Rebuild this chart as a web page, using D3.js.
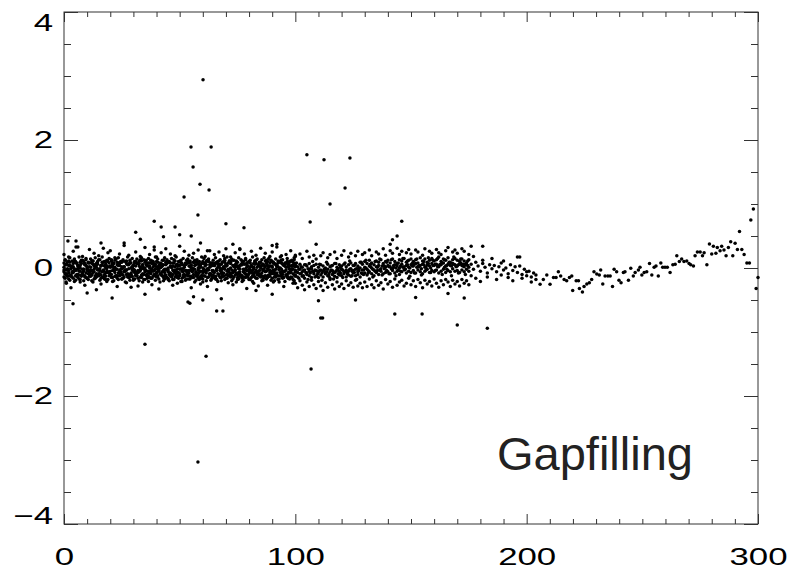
<!DOCTYPE html>
<html>
<head>
<meta charset="utf-8">
<script src="https://cdn.jsdelivr.net/npm/d3@7"></script>
<style>
  body { margin: 0; background: #fff; }
  svg { display: block; font-family: "Liberation Sans", Arial, Helvetica, sans-serif; }
</style>
</head>
<body>
<svg id="chart" width="791" height="572"></svg>
<script>
var xTicks = [0, 100, 200, 300];
var yTicks = [-4, -2, 0, 2, 4];
var yLabels = ["\u22124", "\u22122", "0", "2", "4"];
var title = "Gapfilling";

// days 0-100, dense band
var daysA = [0,1,2,3,4,5,6,7,8,9,10,11,12,13,14,15,16,17,18,19,20,21,22,23,24,25,26,27,28,29,
  30,31,32,33,34,35,36,37,38,39,40,41,42,43,44,45,46,47,48,49,50,51,52,53,54,55,56,57,58,59,
  60,61,62,63,64,65,66,67,68,69,70,71,72,73,74,75,76,77,78,79,80,81,82,83,84,85,86,87,88,89,
  90,91,92,93,94,95,96,97,98,99,100];
var a1 = [.08,.05,.11,.03,.07,.10,.04,.09,.12,.06,
  .02,.08,.11,.05,.07,.13,.04,.09,.06,.10,
  .03,.08,.12,.05,.07,.09,.02,.11,.06,.08,
  .04,.10,.07,.13,.05,.09,.03,.08,.11,.06,
  .10,.04,.07,.12,.05,.09,.08,.03,.11,.06,
  .10,.07,.04,.12,.08,.05,.09,.11,.06,.03,
  .10,.07,.12,.05,.08,.04,.09,.11,.06,.10,
  .03,.08,.07,.12,.05,.09,.04,.11,.06,.08,
  .10,.03,.07,.12,.05,.09,.06,.11,.04,.08,
  .10,.07,.03,.09,.12,.05,.08,.06,.11,.04,.07];
var a2 = [.01,-.03,.04,-.01,.02,-.04,.03,.00,-.02,.05,
  -.01,.02,-.04,.03,.01,-.02,.04,-.03,.00,.02,
  -.05,.03,.01,-.02,.04,-.01,.02,-.03,.05,.00,
  -.02,.03,-.04,.01,.02,-.03,.04,.00,-.01,.03,
  .02,-.04,.01,.05,-.02,.00,.03,-.03,.02,-.01,
  .04,-.02,.01,-.04,.03,.00,-.01,.05,-.03,.02,
  .00,.03,-.02,.01,-.04,.04,-.01,.02,-.03,.01,
  .03,-.02,.00,.04,-.03,.02,-.01,.05,-.04,.01,
  -.02,.03,.01,-.03,.04,.00,-.02,.02,-.01,.03,
  .01,-.04,.02,.00,-.02,.04,-.03,.01,.03,-.01,.02];
var a3 = [-.06,-.09,-.04,-.11,-.07,-.03,-.10,-.05,-.08,-.12,
  -.04,-.07,-.10,-.06,-.09,-.03,-.11,-.05,-.08,-.06,
  -.10,-.04,-.07,-.12,-.05,-.09,-.06,-.03,-.10,-.08,
  -.05,-.11,-.07,-.04,-.09,-.06,-.12,-.08,-.03,-.10,
  -.07,-.05,-.09,-.04,-.11,-.06,-.08,-.10,-.03,-.07,
  -.09,-.05,-.12,-.06,-.08,-.04,-.10,-.07,-.11,-.05,
  -.08,-.06,-.03,-.09,-.12,-.07,-.04,-.10,-.06,-.08,
  -.11,-.05,-.09,-.07,-.03,-.10,-.06,-.12,-.08,-.04,
  -.09,-.07,-.11,-.05,-.08,-.10,-.04,-.06,-.12,-.07,
  -.05,-.09,-.08,-.03,-.10,-.06,-.11,-.07,-.04,-.09,-.06];
var a4 = [-.14,-.11,-.17,-.13,-.16,-.12,-.15,-.18,-.10,-.14,
  -.16,-.13,-.11,-.17,-.14,-.12,-.16,-.15,-.13,-.18,
  -.11,-.15,-.13,-.16,-.12,-.17,-.14,-.10,-.15,-.13,
  -.17,-.12,-.16,-.14,-.11,-.18,-.13,-.15,-.16,-.12,
  -.14,-.17,-.11,-.15,-.13,-.16,-.12,-.18,-.14,-.15,
  -.12,-.16,-.14,-.11,-.17,-.13,-.15,-.12,-.16,-.14,
  -.17,-.13,-.15,-.11,-.16,-.14,-.18,-.12,-.15,-.13,
  -.16,-.12,-.14,-.17,-.11,-.15,-.13,-.16,-.14,-.12,
  -.18,-.15,-.13,-.16,-.11,-.14,-.17,-.12,-.15,-.13,
  -.16,-.14,-.12,-.17,-.13,-.15,-.11,-.16,-.14,-.18,-.13];
var a5 = [-.03,.06,-.08,.02,-.05,.09,-.01,.04,-.10,.07,
  .00,-.06,.08,-.02,.05,-.09,.03,-.04,.10,-.07,
  .01,.06,-.03,.09,-.08,.02,-.05,.07,-.01,-.10,
  .04,-.06,.08,-.02,.05,.00,-.09,.03,.07,-.04,
  -.08,.01,.06,-.05,.09,-.03,.02,.08,-.07,.04,
  -.02,.05,-.10,.07,-.04,.03,.09,-.06,.00,.06,
  -.05,.08,-.01,-.09,.04,.07,-.03,.05,-.08,.02,
  .06,-.04,.09,-.07,.01,.03,-.10,.08,-.02,.05,
  -.06,.04,-.01,.07,-.09,.02,.06,-.05,.10,-.03,
  .03,-.08,.05,-.02,.08,-.06,.01,.04,-.07,.09,-.04];
var a6 = [.21,-.24,.17,-.31,.26,-.19,.33,-.22,.18,-.27,
  -.16,.29,-.20,.23,-.34,.19,-.25,.31,-.18,.24,
  .27,-.21,.16,-.29,.22,-.17,.35,-.23,.20,-.30,
  -.19,.25,-.28,.18,-.22,.32,-.16,.21,-.26,.28,
  .17,-.33,.24,-.20,.30,-.18,.22,-.27,.19,-.24,
  .34,-.21,.26,-.17,.20,-.31,.23,-.19,.28,-.25,
  -.22,.18,-.29,.27,-.16,.21,-.34,.25,-.20,.19,
  .30,-.23,.17,-.26,.24,-.18,.29,-.21,.22,-.32,
  -.17,.26,-.24,.20,-.28,.31,-.19,.23,-.27,.18,
  .25,-.20,.33,-.22,.19,-.29,.21,-.16,.27,-.24,.20];

// half-day samples 0.5-99.5
var daysA2 = [0.5,1.5,2.5,3.5,4.5,5.5,6.5,7.5,8.5,9.5,10.5,11.5,12.5,13.5,14.5,15.5,16.5,17.5,18.5,19.5,
  20.5,21.5,22.5,23.5,24.5,25.5,26.5,27.5,28.5,29.5,30.5,31.5,32.5,33.5,34.5,35.5,36.5,37.5,38.5,39.5,
  40.5,41.5,42.5,43.5,44.5,45.5,46.5,47.5,48.5,49.5,50.5,51.5,52.5,53.5,54.5,55.5,56.5,57.5,58.5,59.5,
  60.5,61.5,62.5,63.5,64.5,65.5,66.5,67.5,68.5,69.5,70.5,71.5,72.5,73.5,74.5,75.5,76.5,77.5,78.5,79.5,
  80.5,81.5,82.5,83.5,84.5,85.5,86.5,87.5,88.5,89.5,90.5,91.5,92.5,93.5,94.5,95.5,96.5,97.5,98.5,99.5];
var a7 = [.05,-.01,.09,.02,-.04,.07,.00,.11,-.02,.04,
  .08,-.03,.06,.01,.10,-.01,.05,.03,-.05,.08,
  .02,.07,-.02,.04,.10,.00,-.04,.06,.09,.01,
  -.03,.07,.03,.11,-.01,.05,.08,-.04,.02,.06,
  .09,.00,.04,-.02,.07,.10,.01,-.05,.05,.03,
  .08,-.01,.06,.11,.02,-.03,.04,.09,.00,.07,
  -.02,.05,.10,.03,-.04,.08,.01,.06,-.01,.09,
  .04,.11,-.03,.02,.07,.00,.05,.10,-.02,.03,
  .08,-.04,.06,.01,.09,.04,-.01,.07,.02,.11,
  -.03,.05,.08,.00,.06,.03,.10,-.02,.04,.07];
var a8 = [-.09,-.03,-.12,-.06,-.01,-.10,-.05,-.13,-.02,-.08,
  -.04,-.11,-.07,-.14,-.03,-.09,-.06,-.12,-.01,-.07,
  -.10,-.04,-.13,-.08,-.02,-.11,-.05,-.09,-.14,-.03,
  -.07,-.12,-.06,-.01,-.10,-.04,-.13,-.08,-.05,-.11,
  -.02,-.09,-.06,-.12,-.03,-.08,-.14,-.05,-.10,-.07,
  -.01,-.11,-.04,-.09,-.13,-.06,-.02,-.10,-.07,-.12,
  -.05,-.08,-.03,-.11,-.06,-.14,-.09,-.04,-.12,-.02,
  -.10,-.07,-.13,-.05,-.08,-.01,-.11,-.06,-.09,-.14,
  -.03,-.12,-.07,-.10,-.04,-.08,-.13,-.05,-.11,-.06,
  -.09,-.02,-.12,-.07,-.10,-.05,-.14,-.08,-.03,-.11];
var a9 = [.12,-.13,.04,-.08,.10,-.02,-.11,.07,-.05,.13,
  -.09,.01,.11,-.12,.06,-.04,.09,-.10,.03,-.07,
  .13,-.01,-.12,.08,-.06,.11,-.03,.05,-.13,.02,
  .10,-.08,.07,-.11,.00,.12,-.05,-.09,.09,-.02,
  -.12,.06,.03,-.07,.13,-.10,.01,.08,-.04,-.13,
  .11,-.06,.05,-.11,.09,-.01,.12,-.08,.02,-.12,
  .07,-.04,.10,-.09,.04,-.13,.06,.00,-.10,.12,
  -.05,.09,-.12,.03,.11,-.07,.05,-.02,.13,-.11,
  .01,-.08,.10,-.06,.07,-.13,.04,.12,-.03,-.09,
  .08,-.12,.02,.11,-.05,.06,-.10,.09,-.01,.13];
var a10 = [-.16,-.12,-.19,-.14,-.21,-.13,-.17,-.11,-.20,-.15,
  -.18,-.13,-.22,-.16,-.12,-.19,-.14,-.17,-.21,-.12,
  -.15,-.20,-.13,-.18,-.11,-.16,-.22,-.14,-.19,-.13,
  -.17,-.12,-.20,-.15,-.18,-.11,-.21,-.16,-.13,-.19,
  -.14,-.22,-.12,-.17,-.15,-.20,-.13,-.18,-.11,-.16,
  -.21,-.14,-.19,-.12,-.17,-.15,-.22,-.13,-.18,-.16,
  -.12,-.20,-.14,-.19,-.11,-.17,-.21,-.15,-.13,-.18,
  -.16,-.12,-.20,-.14,-.22,-.17,-.13,-.19,-.15,-.11,
  -.18,-.21,-.14,-.16,-.12,-.20,-.15,-.17,-.13,-.19,
  -.22,-.14,-.18,-.12,-.16,-.21,-.13,-.17,-.15,-.20];
var a11 = [.13,.09,.16,.11,.14,.08,.17,.12,.10,.15,
  .09,.14,.11,.16,.08,.13,.17,.10,.12,.15,
  .11,.08,.14,.16,.09,.13,.10,.17,.12,.15,
  .08,.14,.11,.16,.13,.09,.15,.12,.10,.17,
  .14,.08,.12,.16,.11,.09,.15,.13,.17,.10,
  .12,.15,.08,.14,.11,.16,.09,.13,.10,.17,
  .15,.11,.14,.08,.12,.16,.10,.13,.09,.15,
  .17,.11,.14,.12,.08,.16,.13,.10,.15,.09,
  .12,.17,.11,.14,.08,.13,.16,.10,.15,.12,
  .09,.14,.11,.17,.13,.08,.15,.10,.12,.16];

// days 100-175, looser band
var daysB = [100,101,102,103,104,105,106,107,108,109,110,111,112,113,114,115,116,117,118,119,
  120,121,122,123,124,125,126,127,128,129,130,131,132,133,134,135,136,137,138,139,
  140,141,142,143,144,145,146,147,148,149,150,151,152,153,154,155,156,157,158,159,
  160,161,162,163,164,165,166,167,168,169,170,171,172,173,174,175];
var b1 = [.04,.02,.06,.01,.05,.03,.07,.02,.04,.06,
  .01,.05,.03,.00,.06,.02,.04,.07,.01,.05,
  .03,.06,.02,.05,.08,.04,.07,.03,.09,.06,
  .10,.07,.12,.08,.05,.11,.09,.13,.07,.10,
  .12,.08,.14,.10,.07,.13,.11,.15,.09,.12,
  .14,.10,.13,.08,.16,.11,.14,.09,.12,.15,
  .11,.13,.17,.10,.14,.12,.16,.09,.13,.15,
  .12,.10,.14,.11,.08,.13];
var b2 = [-.04,-.07,-.02,-.06,-.03,-.08,-.05,-.01,-.06,-.04,
  -.07,-.03,-.05,-.08,-.02,-.06,-.04,-.07,-.03,-.05,
  -.02,-.06,-.03,-.05,-.01,-.04,-.02,-.06,.00,-.03,
  .01,-.02,.03,.00,-.03,.02,.04,-.01,.03,.01,
  .04,.02,-.01,.05,.03,.00,.06,.02,.04,.01,
  .05,.03,.07,.02,.04,.06,.01,.05,.03,.07,
  .04,.06,.02,.05,.08,.03,.06,.04,.07,.05,
  .03,.06,.04,.02,.05,.01];
var b3 = [-.11,-.14,-.09,-.13,-.16,-.10,-.12,-.15,-.09,-.13,
  -.15,-.11,-.14,-.09,-.12,-.16,-.10,-.13,-.15,-.11,
  -.12,-.09,-.14,-.11,-.13,-.08,-.12,-.10,-.14,-.09,
  -.08,-.11,-.06,-.09,-.12,-.07,-.10,-.05,-.09,-.07,
  -.06,-.09,-.04,-.08,-.05,-.10,-.06,-.03,-.08,-.05,
  -.07,-.04,-.08,-.03,-.06,-.09,-.05,-.02,-.07,-.04,
  -.06,-.03,-.08,-.05,-.02,-.07,-.04,-.06,-.01,-.05,
  -.04,-.07,-.03,-.06,-.02,-.05];
var b4 = [-.24,-.31,-.20,-.27,-.34,-.22,-.29,-.19,-.26,-.32,
  -.21,-.28,-.35,-.23,-.30,-.18,-.26,-.33,-.22,-.29,
  -.25,-.32,-.20,-.27,-.23,-.30,-.19,-.28,-.24,-.31,
  -.22,-.29,-.17,-.26,-.31,-.20,-.27,-.23,-.33,-.18,
  -.25,-.21,-.30,-.17,-.27,-.22,-.19,-.28,-.24,-.16,
  -.26,-.20,-.29,-.18,-.23,-.31,-.19,-.25,-.21,-.28,
  -.17,-.24,-.30,-.20,-.26,-.18,-.22,-.29,-.19,-.25,
  -.21,-.28,-.18,-.24,-.20,-.26];
var b5 = [.18,null,.22,.15,null,.26,.17,null,.20,.14,
  null,.19,.24,null,.16,.21,null,.25,.15,null,
  .20,.27,null,.17,.23,null,.19,.26,null,.21,
  .24,null,.28,.19,null,.25,.22,null,.30,.20,
  null,.27,.23,null,.31,.21,.26,null,.24,.29,
  .22,null,.28,.25,null,.20,.30,null,.26,.23,
  null,.29,.24,.21,null,.27,.32,null,.25,.28,
  .23,null,.30,.26,null,.21];

// half-day samples 100.5-174.5
var daysB2 = [100.5,101.5,102.5,103.5,104.5,105.5,106.5,107.5,108.5,109.5,110.5,111.5,112.5,113.5,114.5,
  115.5,116.5,117.5,118.5,119.5,120.5,121.5,122.5,123.5,124.5,125.5,126.5,127.5,128.5,129.5,
  130.5,131.5,132.5,133.5,134.5,135.5,136.5,137.5,138.5,139.5,140.5,141.5,142.5,143.5,144.5,
  145.5,146.5,147.5,148.5,149.5,150.5,151.5,152.5,153.5,154.5,155.5,156.5,157.5,158.5,159.5,
  160.5,161.5,162.5,163.5,164.5,165.5,166.5,167.5,168.5,169.5,170.5,171.5,172.5,173.5,174.5];
var b6 = [-.06,-.02,-.09,-.04,-.07,-.01,-.08,-.05,-.03,-.10,
  -.04,-.08,-.02,-.06,-.09,-.03,-.07,-.05,-.01,-.08,
  -.03,-.06,-.09,-.02,-.05,-.07,-.01,-.04,-.08,-.03,
  .00,-.04,.02,-.02,-.05,.01,-.03,.03,-.01,-.04,
  .02,-.01,.04,.00,-.03,.03,.01,-.02,.05,.00,
  .03,.06,.01,.04,-.01,.05,.02,.07,.00,.04,
  .06,.02,.05,.08,.01,.04,.07,.03,.06,.02,
  .05,.08,.03,.06,.04];
var b7 = [.08,-.16,.02,-.12,.05,-.18,-.01,.10,-.14,-.05,
  .06,-.19,-.03,.09,-.13,.03,-.17,.07,-.09,.01,
  -.15,.08,-.06,.11,-.12,.04,-.18,.00,.09,-.10,
  .12,-.08,.06,-.14,.10,-.04,.14,-.11,.03,.09,
  -.09,.13,.01,-.12,.08,-.05,.15,-.02,.11,-.13,
  .07,-.08,.14,.02,-.11,.10,-.03,.16,-.07,.12,
  -.04,.15,.05,-.10,.13,-.02,.09,-.12,.17,.03,
  -.08,.14,.06,-.10,.11];

// days 176-204, thinning out
var daysC = [176,177,178,179,180,181,182,183,184,185,186,187,188,189,190,
  191,192,193,194,195,196,197,198,199,200,201,202,203,204];
var c1 = [.06,-.02,.09,.03,-.05,.07,.01,-.08,.05,-.01,
  .04,-.06,.02,.08,-.03,.00,-.09,.05,-.04,.02,
  -.07,.03,-.10,-.02,-.12,-.05,-.14,-.08,-.18];
var c2 = [-.12,.18,-.16,null,-.21,.12,null,-.14,null,.15,
  null,-.18,null,-.11,.11,null,-.15,null,-.20,null,
  .17,null,-.16,null,-.06,null,-.22,null,-.11];

// single trace 205-300
var trendX = [205.8,207.2,208.7,210.1,211.6,212.7,213.7,214.7,216.2,217.3,
  218.5,219.5,219.9,221.4,222.4,222.8,224.1,224.8,226,227.1,
  228.1,229.1,230.3,231.4,232,232.9,233.9,235.1,236.1,237.1,
  237.8,238.9,239.9,240.8,241.8,242.5,244,245,246.1,246.9,
  248.3,249,249.8,250.8,251.9,253.1,254.1,255.1,255.9,256.9,
  258,258.8,259.8,260.8,262,263.2,264.2,264.9,266,267,
  268,269.2,270.2,270.9,272.1,272.8,273.8,275,276,276.7,
  277.9,279,280,280.7,281.8,282.4,283.6,284.3,285.3,286.2,
  287.2,288.2,289.1,290.1,291.1,292,293,294,295.2,296.3,
  296.9,298,299.2,300];
var trendY = [-.255,-.18,-.11,-.255,-.15,-.15,-.06,-.125,-.18,-.2,
  -.15,-.125,-.35,-.2,-.2,-.32,-.375,-.29,-.25,-.23,
  -.18,-.06,-.094,-.11,-.03,-.25,-.125,-.125,-.125,-.29,
  -.02,-.06,-.19,-.23,-.07,-.06,-.19,-.005,-.125,-.07,
  -.03,.01,-.11,-.07,-.06,.07,-.11,.01,.03,-.125,
  .08,.01,.01,.01,-.07,.05,.06,.19,.1,.14,
  .1,.11,.07,.05,.03,.19,.25,.25,.19,.24,
  .05,.375,.22,.34,.23,.32,.27,.34,.28,.19,
  .32,.41,.19,.385,.29,.57,.29,.21,.08,.08,
  .75,.92,-.32,-.15];

// isolated points [day, value]
var outliers = [[1.7,.42],[5.2,.42],[5.2,.33],[3.9,-.56],[0.9,-.22],[16,.39],[10,-.39],
  [20.8,-.47],[26,.39],[31,.56],[33,.45],[39,.73],[42,.64],[48,.64],[50,.52],[43,.49],
  [39,.33],[35,-.41],[35,-1.19],[53.6,-.53],[54.4,-.55],[56,-.45],[60,-.5],[66,-.67],
  [68.7,-.67],[68,-.48],[57.9,.83],[70,.69],[77.8,.63],[73,.37],[76,.3],[90,.35],[92,.37],
  [83,-.35],[90,-.41],[62,.27],[59,.39],[55,.5],[51.9,1.11],[54.9,1.89],[55.8,1.58],
  [58.8,1.31],[60.1,2.94],[62.7,1.22],[63.6,1.89],[57.9,-3.03],[61.4,-1.38],[105,1.77],
  [112.4,1.69],[123.6,1.72],[121.5,1.25],[115,1.0],[106.4,.72],[106.8,-1.58],[111,-.78],
  [111.8,-.78],[143,-.72],[154.8,-.72],[170,-.89],[183,-.94],[146,.73],[144,.5],[142,.44],
  [141,.37],[109,.37],[110,-.51],[126,-.5],[152,-.46],[166,-.4],[173,-.47],[176,.34],
  [181,.34],[197,.17]];

var svg = d3.select("#chart");
var plotL = 64, plotR = 758, plotT = 12, plotB = 524;
var labelStretch = 1.45;

var x = d3.scaleLinear().domain([0, 300]).range([plotL, plotR]);
var y = d3.scaleLinear().domain([-4, 4]).range([plotB, plotT]);

function zip(days, vals) {
  var out = [];
  days.forEach(function(d, i) {
    if (vals[i] != null) out.push([d, vals[i]]);
  });
  return out;
}

var points = [];
[a1, a2, a3, a4, a5, a6].forEach(function(s) { points = points.concat(zip(daysA, s)); });
[a7, a8, a9, a10, a11].forEach(function(s) { points = points.concat(zip(daysA2, s)); });
[b1, b2, b3, b4, b5].forEach(function(s) { points = points.concat(zip(daysB, s)); });
[b6, b7].forEach(function(s) { points = points.concat(zip(daysB2, s)); });
[c1, c2].forEach(function(s) { points = points.concat(zip(daysC, s)); });
points = points.concat(zip(trendX, trendY)).concat(outliers);

var xMinor = d3.range(0, 301, 10).filter(function(v) { return v % 100 != 0; });
var yMinor = d3.range(-4, 4.01, 0.5).filter(function(v) { return v % 2 != 0; });

function styleAxis(g) {
  g.attr("font-size", null).attr("font-family", null);
  g.select(".domain").remove();
  g.selectAll(".tick line").attr("stroke", "#333").attr("stroke-width", 1);
  g.selectAll("text").attr("fill", "#000").style("font-size", "24px")
    .attr("transform", "scale(" + labelStretch + ",1)");
}

// bottom
svg.append("g").attr("transform", "translate(0," + plotB + ")")
  .call(d3.axisBottom(x).tickValues(xMinor).tickSize(-5).tickFormat(""))
  .call(styleAxis);
svg.append("g").attr("transform", "translate(0," + plotB + ")")
  .call(d3.axisBottom(x).tickValues(xTicks).tickSize(-10).tickPadding(24).tickFormat(d3.format("d")))
  .call(styleAxis);
// top
svg.append("g").attr("transform", "translate(0," + plotT + ")")
  .call(d3.axisTop(x).tickValues(xMinor).tickSize(-5).tickFormat(""))
  .call(styleAxis);
svg.append("g").attr("transform", "translate(0," + plotT + ")")
  .call(d3.axisTop(x).tickValues(xTicks).tickSize(-10).tickFormat(""))
  .call(styleAxis);
// left
svg.append("g").attr("transform", "translate(" + plotL + ",0)")
  .call(d3.axisLeft(y).tickValues(yMinor).tickSize(-7).tickFormat(""))
  .call(styleAxis);
var yAxis = svg.append("g").attr("transform", "translate(" + plotL + ",0)")
  .call(d3.axisLeft(y).tickValues(yTicks).tickSize(-14)
    .tickFormat(function(d, i) { return yLabels[i]; }))
  .call(styleAxis);
yAxis.selectAll("text")
  .attr("x", -11 / labelStretch)
  .attr("y", function(d) {
    if (d == 4) return 11;
    if (d == -4) return -8;
    return 0;
  });
// right
svg.append("g").attr("transform", "translate(" + plotR + ",0)")
  .call(d3.axisRight(y).tickValues(yMinor).tickSize(-7).tickFormat(""))
  .call(styleAxis);
svg.append("g").attr("transform", "translate(" + plotR + ",0)")
  .call(d3.axisRight(y).tickValues(yTicks).tickSize(-14).tickFormat(""))
  .call(styleAxis);

svg.append("rect")
  .attr("x", plotL).attr("y", plotT)
  .attr("width", plotR - plotL).attr("height", plotB - plotT)
  .attr("fill", "none").attr("stroke", "#333").attr("stroke-width", 1);

svg.append("g").selectAll("circle")
  .data(points)
  .enter().append("circle")
  .attr("cx", function(d) { return x(d[0]); })
  .attr("cy", function(d) { return y(d[1]); })
  .attr("r", 1.75)
  .attr("fill", "#000");

svg.append("text")
  .attr("x", 497).attr("y", 470)
  .style("font-size", "47px")
  .attr("fill", "#222")
  .text(title);
</script>
</body>
</html>
